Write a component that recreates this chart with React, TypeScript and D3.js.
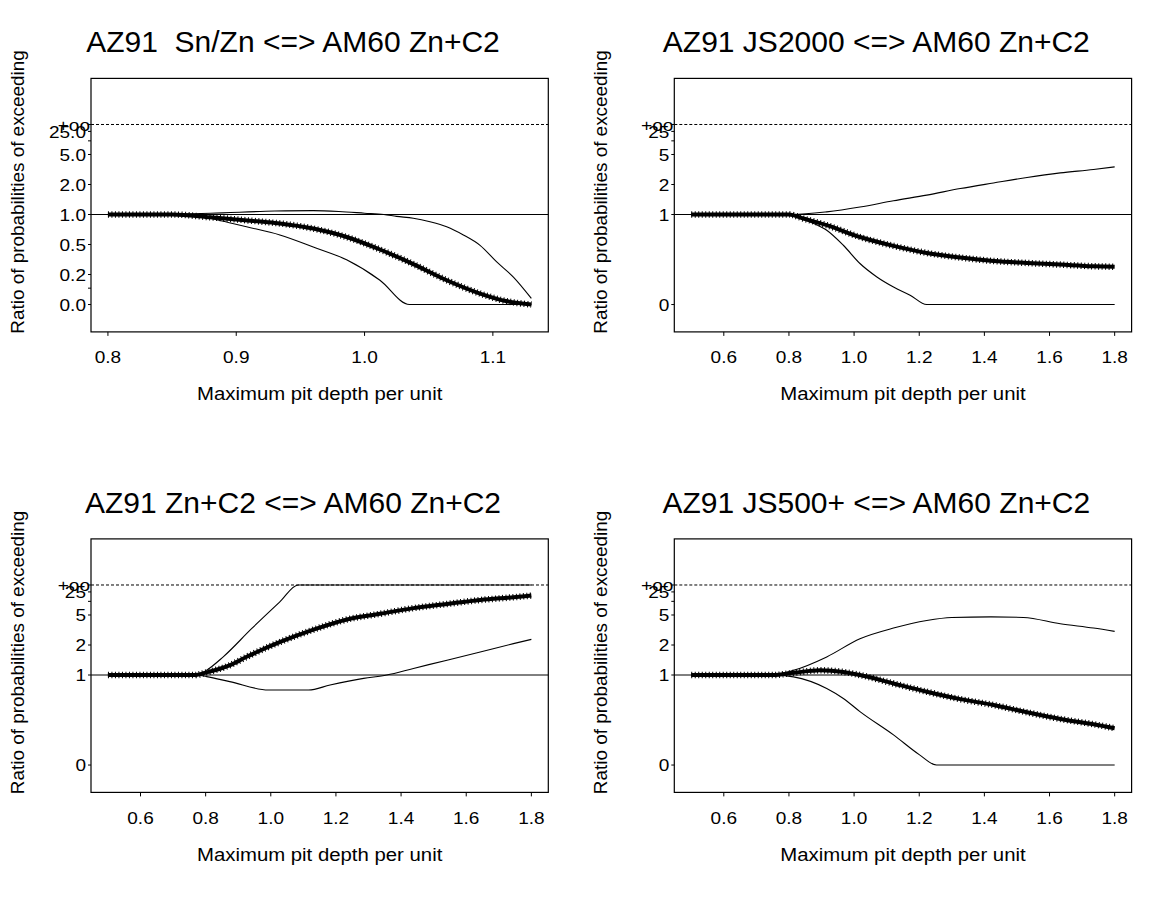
import React from 'react';
import * as d3 from 'd3';

type Pt = [number, number];

// ---------- data ----------
const titles = [
  'AZ91  Sn/Zn <=> AM60 Zn+C2',
  'AZ91 JS2000 <=> AM60 Zn+C2',
  'AZ91 Zn+C2 <=> AM60 Zn+C2',
  'AZ91 JS500+ <=> AM60 Zn+C2',
];
const xRanges: Pt[] = [[0.8, 1.13], [0.5, 1.8], [0.5, 1.8], [0.5, 1.8]];
const xTicksA = [0.8, 0.9, 1.0, 1.1];
const xTicksB = [0.6, 0.8, 1.0, 1.2, 1.4, 1.6, 1.8];
const yTicksA = [0, 0.1, 0.2, 0.5, 1, 2, 5, 10, 25, Infinity];
const yLabelsA = ['0.0', '', '0.2', '0.5', '1.0', '2.0', '5.0', '', '25.0', '+oo'];
const yTicksB = [0, 1, 2, 5, 10, 25, Infinity];
const yLabelsB = ['0', '1', '2', '5', '', '25', '+oo'];
const xLabel = 'Maximum pit depth per unit';
const yLabel = 'Ratio of probabilities of exceeding';

// panel 1: AZ91 Sn/Zn
const snznEst: Pt[] = [[0.8, 1], [0.85, 1], [0.88, 0.94], [0.921, 0.85], [0.934, 0.82], [0.96, 0.73], [0.986, 0.6], [1.012, 0.44], [1.038, 0.29], [1.064, 0.156], [1.09, 0.065], [1.11, 0.02], [1.13, 0]];
const snznUpper: Pt[] = [[0.8, 1], [0.88, 1.03], [0.93, 1.08], [0.96, 1.09], [0.98, 1.07], [1.0, 1.03], [1.015, 1.0], [1.025, 0.96], [1.038, 0.92], [1.051, 0.85], [1.064, 0.76], [1.077, 0.63], [1.09, 0.49], [1.103, 0.31], [1.116, 0.18], [1.13, 0.035]];
const snznLower: Pt[] = [[0.8, 1], [0.85, 0.99], [0.875, 0.94], [0.888, 0.87], [0.908, 0.76], [0.934, 0.63], [0.96, 0.47], [0.986, 0.33], [1.012, 0.156], [1.035, 0], [1.13, 0]];

// panel 2: AZ91 JS2000
const js2000Est: Pt[] = [[0.5, 1], [0.8, 1], [0.844, 0.915], [0.916, 0.788], [1.018, 0.6], [1.121, 0.483], [1.223, 0.402], [1.326, 0.353], [1.428, 0.319], [1.531, 0.3], [1.633, 0.285], [1.735, 0.27], [1.8, 0.265]];
const js2000Upper: Pt[] = [[0.5, 1], [0.81, 1], [0.916, 1.06], [1.018, 1.18], [1.121, 1.36], [1.223, 1.55], [1.326, 1.81], [1.428, 2.08], [1.531, 2.4], [1.633, 2.72], [1.735, 3.0], [1.8, 3.25]];
const js2000Lower: Pt[] = [[0.5, 1], [0.81, 1], [0.865, 0.848], [0.916, 0.703], [0.967, 0.491], [1.018, 0.295], [1.07, 0.181], [1.121, 0.108], [1.172, 0.055], [1.223, 0], [1.8, 0]];

// panel 3: AZ91 Zn+C2
const zncEst: Pt[] = [[0.5, 1], [0.766, 1], [0.803, 1.06], [0.875, 1.247], [0.926, 1.507], [1.029, 2.16], [1.131, 3.03], [1.234, 4.22], [1.336, 5.25], [1.438, 6.78], [1.541, 8.5], [1.643, 11], [1.745, 13.7], [1.8, 16]];
const zncUpper: Pt[] = [[0.5, 1], [0.77, 1], [0.803, 1.115], [0.854, 1.507], [0.941, 3.12], [1.027, 9.5], [1.084, Infinity], [1.8, Infinity]];
const zncLower: Pt[] = [[0.5, 1], [0.77, 1], [0.803, 0.965], [0.874, 0.863], [0.993, 0.715], [1.116, 0.715], [1.182, 0.8], [1.285, 0.928], [1.356, 1.0], [1.438, 1.158], [1.541, 1.395], [1.643, 1.69], [1.745, 2.07], [1.8, 2.31]];

// panel 4: AZ91 JS500+
const js500Est: Pt[] = [[0.5, 1], [0.752, 1], [0.814, 1.05], [0.896, 1.11], [0.967, 1.07], [1.018, 1.0], [1.121, 0.828], [1.223, 0.687], [1.326, 0.577], [1.428, 0.5], [1.531, 0.414], [1.633, 0.344], [1.735, 0.293], [1.8, 0.257]];
const js500Upper: Pt[] = [[0.5, 1], [0.75, 1], [0.814, 1.11], [0.916, 1.504], [1.018, 2.35], [1.121, 3.18], [1.223, 4.08], [1.3, 4.55], [1.42, 4.65], [1.52, 4.55], [1.633, 3.64], [1.735, 3.18], [1.8, 2.88]];
const js500Lower: Pt[] = [[0.5, 1], [0.75, 1], [0.814, 0.96], [0.916, 0.74], [0.967, 0.587], [1.018, 0.422], [1.121, 0.201], [1.201, 0.06], [1.253, 0], [1.8, 0]];

const panelEst = [snznEst, js2000Est, zncEst, js500Est];
const panelUpper = [snznUpper, js2000Upper, zncUpper, js500Upper];
const panelLower = [snznLower, js2000Lower, zncLower, js500Lower];

// ---------- layout ----------
const W = 1153;
const H = 900;
const COL_X = [0, 583.3];
const ROW_Y = [0, 460.5];
const BOX = { left: 91, right: 548.3, top: 78.4, bottom: 331.9 };
const P_DOMAIN: Pt = [-0.152, 1.256];
const FONT = "'Liberation Sans', Arial, Helvetica, sans-serif";
const TITLE_CX = 293;

const toP = (r: number) => (r === Infinity ? 1 : r / (1 + r));

function T(props: { x: number; y: number; size: number; sx?: number; anchor?: string; rotate?: number; dy?: string; children: React.ReactNode }) {
  const { x, y, size, sx = 1, anchor = 'middle', rotate = 0, dy, children } = props;
  return (
    <text
      transform={`translate(${x},${y}) rotate(${rotate}) scale(${sx},1)`}
      fontSize={size}
      fontFamily={FONT}
      textAnchor={anchor as any}
      dy={dy}
      fill="#000"
      style={{ whiteSpace: 'pre' }}
    >
      {children}
    </text>
  );
}

function Panel({ i }: { i: number }) {
  const ox = COL_X[i % 2];
  const oy = ROW_Y[Math.floor(i / 2)];
  const [x0, x1] = xRanges[i];
  const pad = (x1 - x0) * 0.04;
  const x = d3.scaleLinear().domain([x0 - pad, x1 + pad]).range([BOX.left, BOX.right]);
  const y = d3.scaleLinear().domain(P_DOMAIN).range([BOX.bottom, BOX.top]);
  const line = d3
    .line<Pt>()
    .x((d) => x(d[0]))
    .y((d) => y(toP(d[1])))
    .curve(d3.curveMonotoneX);
  const xt = i === 0 ? xTicksA : xTicksB;
  const yt = i === 0 ? yTicksA : yTicksB;
  const yl = i === 0 ? yLabelsA : yLabelsB;
  const cx = (BOX.left + BOX.right) / 2;
  return (
    <g transform={`translate(${ox},${oy})`}>
      <T x={TITLE_CX} y={52} size={30}>{titles[i]}</T>
      {/* reference lines */}
      <line x1={BOX.left} x2={BOX.right} y1={y(toP(Infinity))} y2={y(toP(Infinity))} stroke="#000" strokeWidth={1} strokeDasharray="3 2" />
      <line x1={BOX.left} x2={BOX.right} y1={y(toP(1))} y2={y(toP(1))} stroke="#000" strokeWidth={1} />
      {/* curves */}
      <path d={line(panelUpper[i]) || ''} fill="none" stroke="#000" strokeWidth={1.1} />
      <path d={line(panelLower[i]) || ''} fill="none" stroke="#000" strokeWidth={1.1} />
      <path d={line(panelEst[i]) || ''} fill="none" stroke="#000" strokeWidth={4} />
      <path d={line(panelEst[i]) || ''} fill="none" stroke="#000" strokeWidth={6.5} strokeDasharray="1 2.5" />
      {/* box */}
      <rect x={BOX.left} y={BOX.top} width={BOX.right - BOX.left} height={BOX.bottom - BOX.top} fill="none" stroke="#000" strokeWidth={1.2} />
      {/* x axis */}
      {xt.map((v) => (
        <g key={'x' + v}>
          <line x1={x(v)} x2={x(v)} y1={BOX.bottom} y2={BOX.bottom + 4} stroke="#000" strokeWidth={1} />
          <T x={x(v)} y={363} size={17} sx={1.12}>{v.toFixed(1)}</T>
        </g>
      ))}
      {/* y axis */}
      {yt.map((v, k) => (
        <g key={'y' + k}>
          <line x1={BOX.left - 3} x2={BOX.left} y1={y(toP(v))} y2={y(toP(v))} stroke="#000" strokeWidth={1} />
          {yl[k] !== '' && (
            <T x={v === Infinity ? BOX.left - 1 : BOX.left - 5} y={y(toP(v))} dy="0.36em" size={17} sx={1.12} anchor="end">{yl[k]}</T>
          )}
        </g>
      ))}
      <T x={cx} y={400} size={18.5} sx={1.1}>{xLabel}</T>
      <T x={24} y={192} size={18} sx={1.05} rotate={-90}>{yLabel}</T>
    </g>
  );
}

export default function App() {
  return (
    <svg width={W} height={H} style={{ position: 'absolute', left: 0, top: 0, background: '#fff' }}>
      <rect x={0} y={0} width={W} height={H} fill="#fff" />
      {[0, 1, 2, 3].map((i) => (
        <Panel key={i} i={i} />
      ))}
    </svg>
  );
}
